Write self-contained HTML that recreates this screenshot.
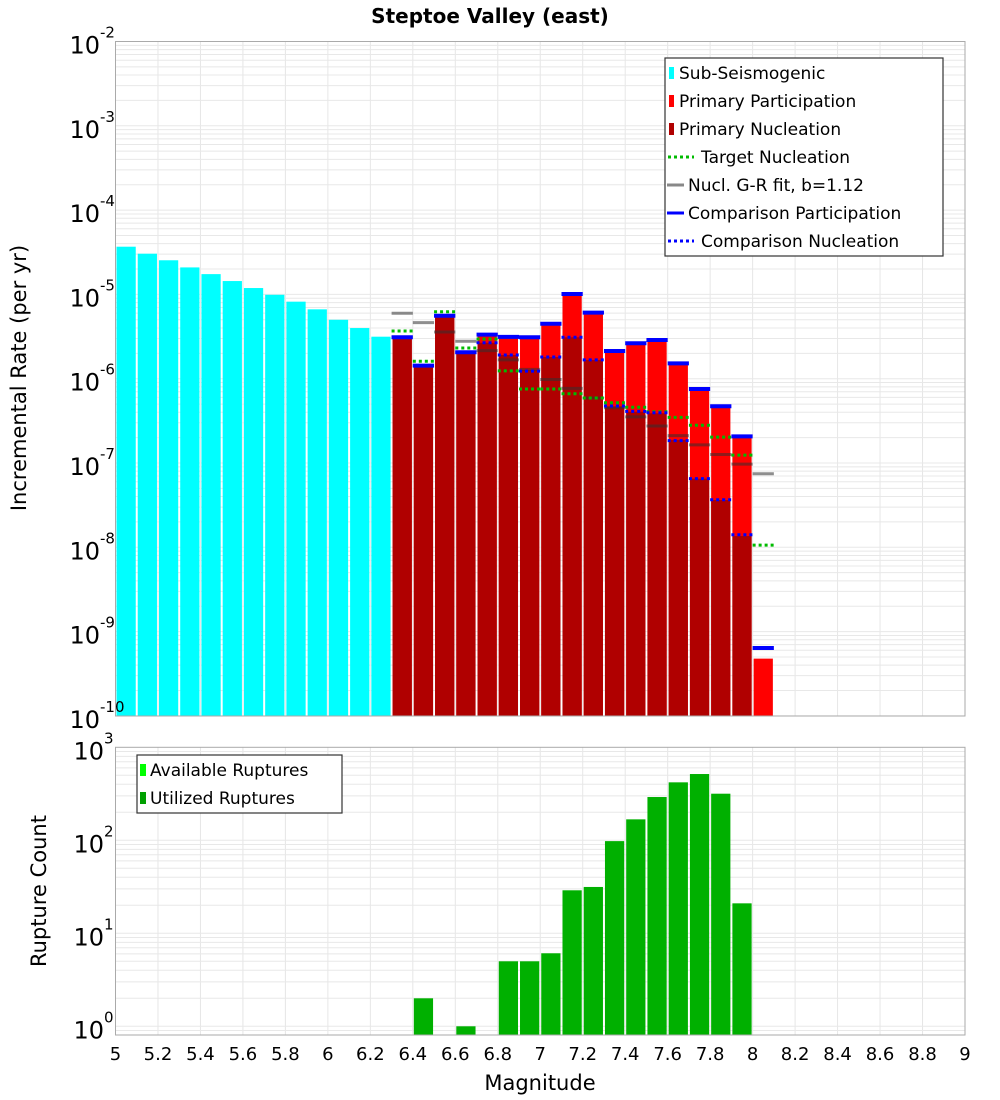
<!DOCTYPE html>
<html><head><meta charset="utf-8"><style>
html,body{margin:0;padding:0;background:#fff;}
svg{display:block;font-family:"DejaVu Sans","Liberation Sans",sans-serif;}
</style></head><body>
<svg id="chart" width="1000" height="1100" xmlns="http://www.w3.org/2000/svg">
<text x="490" y="23" text-anchor="middle" font-size="20" font-weight="bold">Steptoe Valley (east)</text>
<text transform="translate(26,378) rotate(-90)" text-anchor="middle" font-size="21">Incremental Rate (per yr)</text>
<text transform="translate(46,891) rotate(-90)" text-anchor="middle" font-size="21">Rupture Count</text>
<text x="540" y="1090" text-anchor="middle" font-size="21">Magnitude</text>
<g id="topPlot"></g>
<g id="botPlot"></g>
</svg>
<script>
const subMags=[5.05,5.15,5.25,5.35,5.45,5.55,5.65,5.75,5.85,5.95,6.05,6.15,6.25];
const subRates=[3.68e-5,3.04e-5,2.54e-5,2.09e-5,1.74e-5,1.44e-5,1.19e-5,9.9e-6,8.2e-6,6.65e-6,5.0e-6,3.99e-6,3.15e-6];
const primMags=[6.35,6.45,6.55,6.65,6.75,6.85,6.95,7.05,7.15,7.25,7.35,7.45,7.55,7.65,7.75,7.85,7.95,8.05];
const partRates=[3.10e-6,1.43e-6,5.58e-6,2.06e-6,3.33e-6,3.13e-6,3.10e-6,4.49e-6,1.01e-5,6.07e-6,2.13e-6,2.63e-6,2.88e-6,1.52e-6,7.55e-7,4.71e-7,2.07e-7,4.78e-10];
const nuclRates=[3.10e-6,1.43e-6,5.58e-6,2.06e-6,2.67e-6,1.91e-6,1.27e-6,1.81e-6,3.10e-6,1.67e-6,4.66e-7,4.06e-7,3.89e-7,1.88e-7,6.52e-8,3.64e-8,1.36e-8,0];
const targetRates=[3.68e-6,1.61e-6,6.23e-6,2.31e-6,2.96e-6,1.24e-6,7.55e-7,7.55e-7,6.64e-7,5.90e-7,5.19e-7,4.58e-7,4.06e-7,3.48e-7,2.80e-7,2.03e-7,1.24e-7,1.06e-8];
const grRates=[5.97e-6,4.62e-6,3.58e-6,2.78e-6,2.15e-6,1.67e-6,1.29e-6,9.8e-7,7.69e-7,5.90e-7,4.53e-7,3.52e-7,2.75e-7,2.11e-7,1.64e-7,1.26e-7,9.7e-8,7.46e-8];
const compPartRates=[3.10e-6,1.43e-6,5.58e-6,2.06e-6,3.33e-6,3.13e-6,3.10e-6,4.49e-6,1.01e-5,6.07e-6,2.13e-6,2.63e-6,2.88e-6,1.52e-6,7.55e-7,4.71e-7,2.07e-7,6.38e-10];
const compNuclRates=[3.10e-6,1.43e-6,5.58e-6,2.06e-6,2.67e-6,1.91e-6,1.23e-6,1.81e-6,3.10e-6,1.67e-6,4.74e-7,4.10e-7,3.95e-7,1.84e-7,6.52e-8,3.66e-8,1.41e-8,0];
const countMags=[6.45,6.65,6.85,6.95,7.05,7.15,7.25,7.35,7.45,7.55,7.65,7.75,7.85,7.95];
const countVals=[2,1,5,5,6.1,29,31.5,98,168,292,420,516,317,21];
const xTicks=["5","5.2","5.4","5.6","5.8","6","6.2","6.4","6.6","6.8","7","7.2","7.4","7.6","7.8","8","8.2","8.4","8.6","8.8","9"];
const topExps=[-2,-3,-4,-5,-6,-7,-8,-9,-10];
const botExps=[3,2,1,0];

const NS="http://www.w3.org/2000/svg";
const L=115.5,R=965;
const TT=41.5,TB=716,BT=747.3,BB=1035;
function xs(m){return L+(m-5)/4*(R-L);}
function yTop(v){return TT+(-2-Math.log10(v))*84.3;}
function yBot(v){return 1026.3-Math.log10(v)*93;}
function mk(p,tag,at,txt){const e=document.createElementNS(NS,tag);for(const k in at)e.setAttribute(k,at[k]);if(txt!==undefined)e.textContent=txt;p.appendChild(e);return e;}
const gTop=document.getElementById('topPlot'),gBot=document.getElementById('botPlot');

function grid(g,yf,t,b,e0,e1){
  for(let i=0;i<xTicks.length;i++){const xx=xs(5+0.2*i);const ln=mk(g,'line',{x1:xx,x2:xx,y1:t,y2:b,stroke:'#e6e6e6','stroke-width':1});
    
    }
  for(let e=e0;e<e1;e++){for(let k=1;k<10;k++){const yy=yf(k*Math.pow(10,e));if(yy<t||yy>b)continue;const ln=mk(g,'line',{x1:L,x2:R,y1:yy,y2:yy,stroke:'#e8e8e8','stroke-width':1});
    
    }}
}
grid(gTop,yTop,TT,TB,-10,-2);
grid(gBot,yBot,BT,BB,-1,3);

function bar(g,m,v,yf,b,fill,name){const x0=xs(m-0.05)+1,x1=xs(m+0.05)-1;const yy=yf(v);const r=mk(g,'rect',{x:x0,y:yy,width:x1-x0,height:b-yy,fill:fill});
  
  }
subMags.forEach((m,i)=>bar(gTop,m,subRates[i],yTop,TB,'#00ffff','sub-seismogenic-bar'));
primMags.forEach((m,i)=>{if(partRates[i]>0)bar(gTop,m,partRates[i],yTop,TB,'#ff0000','participation-bar');});
primMags.forEach((m,i)=>{if(nuclRates[i]>0)bar(gTop,m,nuclRates[i],yTop,TB,'#b00000','nucleation-bar');});
function seg(g,m,v,stroke,w,dash,name){const yy=yTop(v);const a={x1:xs(m-0.05),x2:xs(m+0.05),y1:yy,y2:yy,stroke:stroke,'stroke-width':w};if(dash)a['stroke-dasharray']=dash;const l=mk(g,'line',a);
  
  }
primMags.forEach((m,i)=>seg(gTop,m,grRates[i],'rgba(50,50,50,0.55)',3,null,'gr-fit-segment'));
primMags.forEach((m,i)=>seg(gTop,m,targetRates[i],'#00bb00',3,'3,3','target-nucleation-segment'));
primMags.forEach((m,i)=>{if(compNuclRates[i]>0)seg(gTop,m,compNuclRates[i],'#0000ff',3,'3,3','comparison-nucleation-segment');});
primMags.forEach((m,i)=>seg(gTop,m,compPartRates[i],'#0000ff',4,null,'comparison-participation-segment'));
countMags.forEach((m,i)=>bar(gBot,m,countVals[i],yBot,BB,'#00b000','utilized-ruptures-bar'));

[[gTop,TT,TB],[gBot,BT,BB]].forEach(([g,t,b])=>{const r=mk(g,'rect',{x:L,y:t,width:R-L,height:b-t,fill:'none',stroke:'#aaa','stroke-width':1});
  
  });

function ylab(g,e,yy){const t=mk(g,'text',{x:104,y:yy+12,'text-anchor':'end','font-size':24});
  
  
  t.textContent='10';const s=mk(g,'text',{x:104,y:yy-4,'font-size':15},String(e));
  
  
  if(String(e).length>1){s.setAttribute('x',100);t.setAttribute('x',100);}}
topExps.forEach(e=>ylab(gTop,e,yTop(Math.pow(10,e))));
botExps.forEach(e=>ylab(gBot,e,yBot(Math.pow(10,e))));
xTicks.forEach((s,i)=>{const t=mk(gBot,'text',{x:xs(5+0.2*i),y:1060,'text-anchor':'middle','font-size':18},s);
  
  });

const lg=mk(gTop,'g',{});


mk(lg,'rect',{x:665,y:58,width:278,height:198,fill:'#fff',stroke:'#333','stroke-width':1.2});
const items=[['Sub-Seismogenic','box','#00ffff'],['Primary Participation','box','#ff0000'],['Primary Nucleation','box','#b00000'],['Target Nucleation','dot','#00bb00'],['Nucl. G-R fit, b=1.12','line','#888'],['Comparison Participation','line','#0000ff'],['Comparison Nucleation','dot','#0000ff']];
items.forEach((it,i)=>{const yy=73+i*28;const ge=mk(lg,'g',{});
  
  
  let tx=679;
  if(it[1]==='box')mk(ge,'rect',{x:669,y:yy-6,width:5,height:12,fill:it[2]});
  else if(it[1]==='line'){mk(ge,'line',{x1:667,x2:684,y1:yy,y2:yy,stroke:it[2],'stroke-width':3});tx=688;}
  else {mk(ge,'line',{x1:668,x2:694,y1:yy,y2:yy,stroke:it[2],'stroke-width':3,'stroke-dasharray':'3,3'});tx=701;}
  mk(ge,'text',{x:tx,y:yy+6,'font-size':17},it[0]);});
const lg2=mk(gBot,'g',{});


mk(lg2,'rect',{x:137,y:755,width:205,height:58,fill:'#fff',stroke:'#333','stroke-width':1.2});
[['Available Ruptures','#00ff00'],['Utilized Ruptures','#00a000']].forEach((it,i)=>{const yy=770+i*28;const ge=mk(lg2,'g',{});
  
  
  mk(ge,'rect',{x:140,y:yy-6,width:6,height:12,fill:it[1]});
  mk(ge,'text',{x:150,y:yy+6,'font-size':17},it[0]);});
</script>
</body></html>
